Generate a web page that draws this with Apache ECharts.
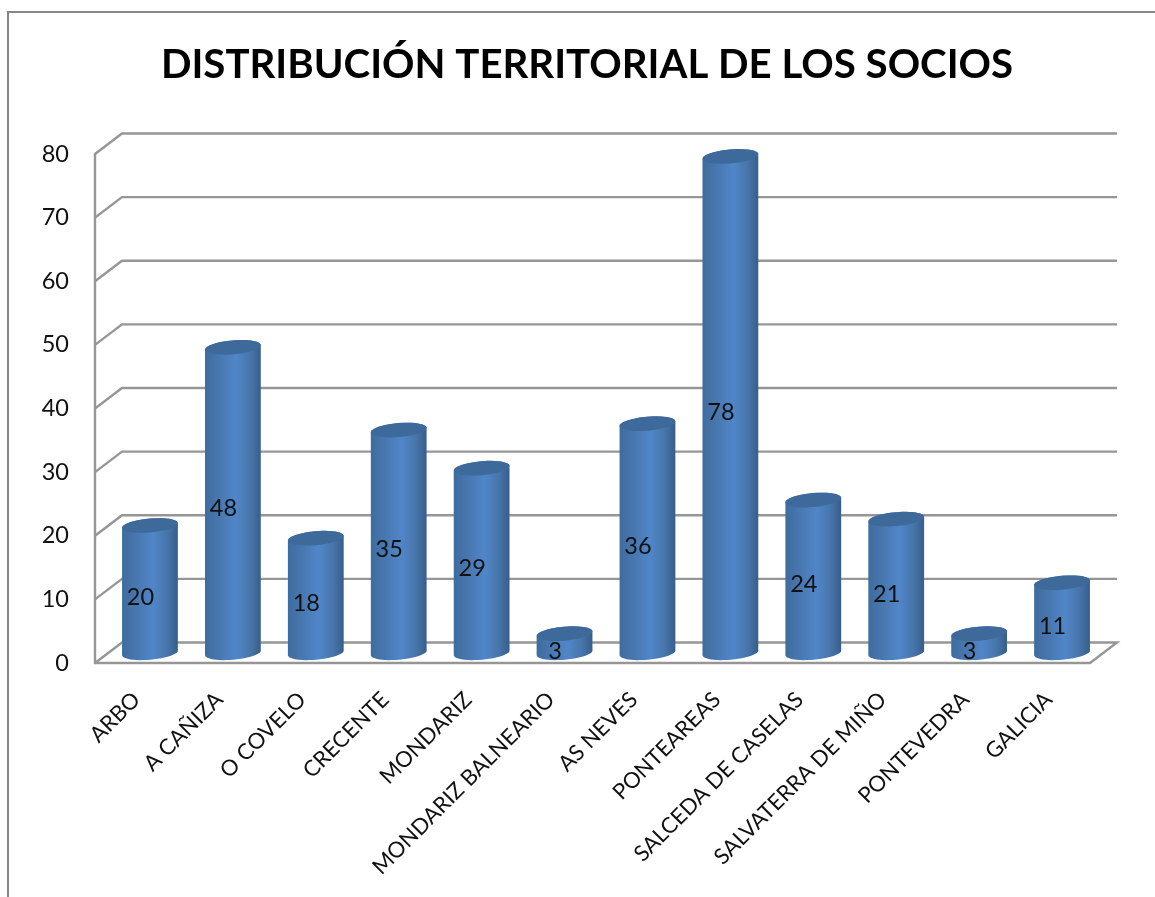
<!DOCTYPE html>
<html>
<head>
<meta charset="utf-8">
<title>Distribución territorial de los socios</title>
<script src="https://cdn.jsdelivr.net/npm/echarts@6/dist/echarts.min.js"></script>
<style>
	html, body {margin: 0; padding: 0; background: #fff;}
	#main {width: 1155px; height: 897px;}
</style>
</head>
<body>
<div id="main"></div>
<script>
var chartTitle = 'DISTRIBUCIÓN TERRITORIAL DE LOS SOCIOS';
var categories = ['ARBO', 'A CAÑIZA', 'O COVELO', 'CRECENTE', 'MONDARIZ', 'MONDARIZ BALNEARIO', 'AS NEVES', 'PONTEAREAS', 'SALCEDA DE CASELAS', 'SALVATERRA DE MIÑO', 'PONTEVEDRA', 'GALICIA'];
var socios = [20, 48, 18, 35, 29, 3, 36, 78, 24, 21, 3, 11];
var yTicks = [0, 10, 20, 30, 40, 50, 60, 70, 80];

var fontName = 'Lato';
var lineColor = '#969696';
//profundidad de la caja 3D
var depthX = 27;
var depthY = 20.5;
//cilindro
var radiusX = 28;
var radiusY = 7;
var tilt = -5 * Math.PI / 180;

function ellipsePoint(cx, cy, t){
	return [
		cx + radiusX * Math.cos(t) * Math.cos(tilt) - radiusY * Math.sin(t) * Math.sin(tilt),
		cy + radiusX * Math.cos(t) * Math.sin(tilt) + radiusY * Math.sin(t) * Math.cos(tilt)
	];
}

function ellipseArc(cx, cy, from, to){
	var pts = [];
	for(var i = 0; i <= 24; i++){
		pts.push(ellipsePoint(cx, cy, from + (to - from) * i / 24));
	}
	return pts;
}

//lineas de la pared del fondo y del suelo
function renderWall(params, api){
	var box = params.coordSys;
	var p = api.coord([0, api.value(0)]);
	var y = p[1];
	var pts = [[box.x, y], [box.x + depthX, y - depthY], [box.x + box.width + depthX, y - depthY]];
	if(api.value(0) === 0){
		pts.push([box.x + box.width, y]);
	}
	return {
		type: 'polyline',
		shape: {points: pts},
		style: {fill: null, stroke: lineColor, lineWidth: 2.4}
	};
}

function renderCylinder(params, api){
	var idx = api.value(0);
	var val = api.value(1);
	var top = api.coord([idx, val]);
	var base = api.coord([idx, 0]);
	var cx = top[0] + depthX / 2;
	var topY = top[1] - depthY / 2;
	var baseY = base[1] - depthY / 2;
	var body = ellipseArc(cx, topY, Math.PI, 2 * Math.PI).concat(ellipseArc(cx, baseY, 0, Math.PI));
	return {
		type: 'group',
		children: [
			{
				type: 'polygon',
				shape: {points: body},
				style: {
					fill: new echarts.graphic.LinearGradient(0, 0, 1, 0, [
						{offset: 0, color: '#3f6c9f'},
						{offset: 0.25, color: '#4877af'},
						{offset: 0.55, color: '#5086c9'},
						{offset: 0.8, color: '#4876ab'},
						{offset: 1, color: '#375e8c'}
					])
				}
			},
			{
				type: 'polygon',
				shape: {points: ellipseArc(cx, topY, 0, 2 * Math.PI)},
				style: {fill: '#3e6a9b'}
			},
			{
				type: 'text',
				style: {
					x: top[0] + 4,
					y: (top[1] + base[1]) / 2 - 2,
					text: String(val),
					fill: '#111',
					font: '23.5px ' + fontName,
					align: 'center',
					verticalAlign: 'middle'
				}
			}
		]
	};
}

var wallData = [];
for(var i in yTicks){
	wallData.push([yTicks[i]]);
}
var barData = [];
for(var j in socios){
	barData.push([Number(j), socios[j]]);
}

var chart = echarts.init(document.getElementById('main'), null, {renderer: 'canvas'});
chart.setOption({
	animation: false,
	backgroundColor: '#fff',
	title: {
		text: chartTitle,
		left: 582,
		top: 40,
		textAlign: 'center',
		textStyle: {fontFamily: fontName, fontSize: 40.2, fontWeight: 'bold', color: '#000'}
	},
	graphic: [{
		type: 'rect',
		shape: {x: 8, y: 12, width: 1300, height: 1000},
		style: {fill: null, stroke: '#868686', lineWidth: 2},
		silent: true
	}],
	grid: {left: 95, top: 154, width: 995, height: 509},
	xAxis: {
		type: 'category',
		data: categories,
		axisLine: {show: true, lineStyle: {color: lineColor, width: 2.4}},
		axisTick: {show: false},
		axisLabel: {
			interval: 0,
			rotate: 45,
			margin: 33,
			verticalAlign: 'middle',
			fontFamily: fontName,
			fontSize: 22,
			color: '#111'
		}
	},
	yAxis: {
		type: 'value',
		min: 0,
		max: 80,
		interval: 10,
		axisLine: {show: true, lineStyle: {color: lineColor, width: 2.4}},
		axisTick: {show: false},
		splitLine: {show: false},
		axisLabel: {margin: 26, padding: [3, 0, 0, 0], fontFamily: fontName, fontSize: 23.5, color: '#111'}
	},
	series: [
		{
			type: 'custom',
			name: 'pared',
			coordinateSystem: 'cartesian2d',
			renderItem: renderWall,
			data: wallData,
			encode: {y: 0},
			silent: true,
			z: 1,
			clip: false
		},
		{
			type: 'custom',
			name: 'socios',
			coordinateSystem: 'cartesian2d',
			renderItem: renderCylinder,
			data: barData,
			encode: {x: 0, y: 1},
			z: 2,
			clip: false
		}
	]
});
</script>
</body>
</html>
